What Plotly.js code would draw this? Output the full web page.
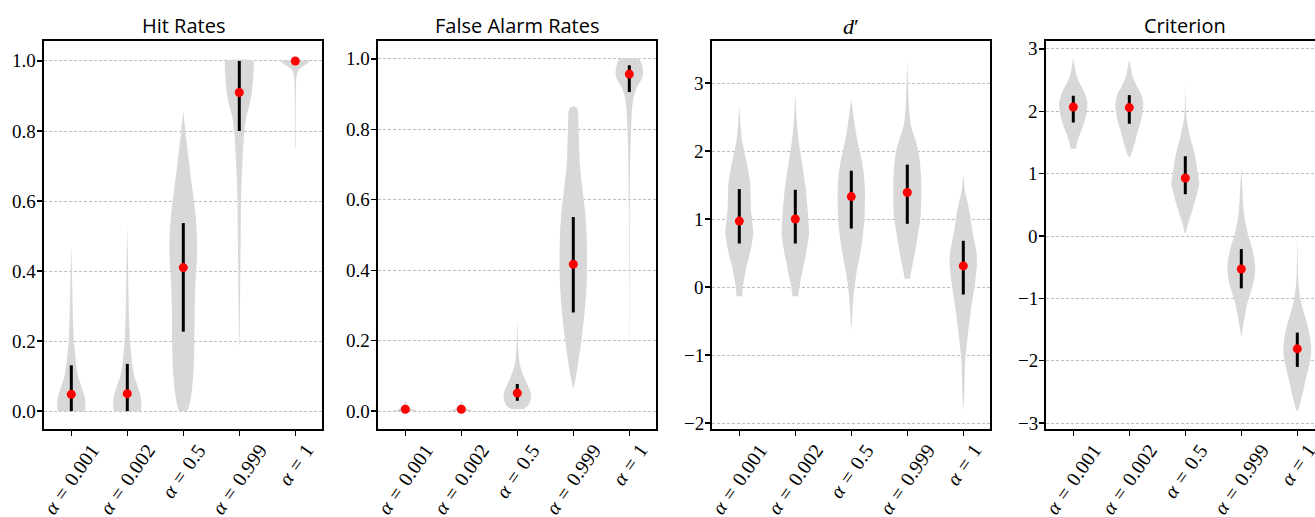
<!DOCTYPE html>
<html><head><meta charset="utf-8">
<script src="https://cdn.plot.ly/plotly-3.0.1.min.js"></script>
<style>html,body{margin:0;padding:0;background:#fff}</style>
</head><body><div id="chart" style="width:1315px;height:517px"></div>
<script>
// ---- categories / tick labels ----
const categories = ["<i>α</i>\u2004=\u20040.001", "<i>α</i>\u2004=\u20040.002", "<i>α</i>\u2004=\u20040.5", "<i>α</i>\u2004=\u20040.999", "<i>α</i>\u2004=\u20041"];
const panelTitles = ["Hit Rates", "False Alarm Rates", "<i>d</i>′", "Criterion"];

// ---- Hit rates: violin profiles (y levels, relative density), whisker range, mean ----
const hitY = [
  [0, 0.01, 0.03, 0.05, 0.07, 0.10, 0.13, 0.16, 0.20, 0.25, 0.30, 0.35, 0.40, 0.47],
  [0, 0.01, 0.03, 0.05, 0.07, 0.10, 0.13, 0.16, 0.20, 0.25, 0.30, 0.35, 0.40, 0.45, 0.53],
  [0, 0.02, 0.06, 0.12, 0.20, 0.30, 0.38, 0.44, 0.50, 0.56, 0.62, 0.68, 0.74, 0.80, 0.857],
  [0.19, 0.34, 0.49, 0.63, 0.72, 0.80, 0.84, 0.87, 0.91, 0.96, 1.0],
  [0.75, 0.85, 0.93, 0.96, 0.975, 0.985, 0.995, 1.0]
];
const hitW = [
  [0.95, 1.0, 1.0, 0.9, 0.72, 0.48, 0.36, 0.28, 0.19, 0.13, 0.10, 0.07, 0.05, 0],
  [0.95, 1.0, 1.0, 0.92, 0.75, 0.5, 0.36, 0.28, 0.19, 0.14, 0.10, 0.08, 0.06, 0.04, 0],
  [0.3, 0.45, 0.62, 0.74, 0.8, 0.82, 0.88, 0.98, 0.98, 0.88, 0.7, 0.5, 0.32, 0.15, 0],
  [0.02, 0.06, 0.10, 0.14, 0.24, 0.36, 0.5, 0.7, 0.9, 1.0, 1.0],
  [0.02, 0.03, 0.05, 0.10, 0.25, 0.55, 0.95, 1.0]
];
const hitLo = [0, 0, 0.227, 0.80, 1.0];
const hitHi = [0.131, 0.135, 0.537, 1.0, 1.0];
const hitMean = [0.048, 0.05, 0.41, 0.91, 1.0];

// ---- False alarm rates ----
const faY = [
  [0, 0.004, 0.008, 0.015, 0.025, 0.035],
  [0, 0.004, 0.008, 0.015, 0.025, 0.035],
  [0.005, 0.015, 0.03, 0.045, 0.06, 0.075, 0.09, 0.11, 0.13, 0.15, 0.18, 0.21, 0.256],
  [0.064, 0.10, 0.15, 0.20, 0.25, 0.30, 0.35, 0.40, 0.45, 0.50, 0.55, 0.60, 0.65, 0.70, 0.75, 0.80, 0.85, 0.862, 0.866],
  [0.206, 0.40, 0.53, 0.67, 0.77, 0.86, 0.89, 0.92, 0.94, 0.955, 0.975, 0.99, 1.0]
];
const faW = [
  [1.0, 0.6, 0.35, 0.12, 0.04, 0],
  [1.0, 0.6, 0.35, 0.12, 0.04, 0],
  [0.45, 0.75, 0.95, 0.98, 0.9, 0.72, 0.55, 0.35, 0.2, 0.12, 0.06, 0.04, 0],
  [0, 0.2, 0.4, 0.58, 0.73, 0.85, 0.94, 0.98, 0.98, 0.95, 0.88, 0.75, 0.6, 0.47, 0.42, 0.38, 0.34, 0.25, 0],
  [0.01, 0.02, 0.03, 0.05, 0.10, 0.20, 0.30, 0.55, 0.85, 0.98, 0.95, 0.85, 0.7]
];
const faLo = [0, 0, 0.029, 0.28, 0.906];
const faHi = [0.008, 0.008, 0.077, 0.551, 0.982];
const faMean = [0.005, 0.005, 0.051, 0.417, 0.957];

// ---- d' ----
const dpY = [
  [-0.137, 0, 0.15, 0.29, 0.45, 0.58, 0.78, 0.9, 1.1, 1.27, 1.45, 1.56, 1.73, 1.9, 2.15, 2.4, 2.68],
  [-0.137, 0.05, 0.19, 0.35, 0.48, 0.65, 0.78, 0.9, 1.1, 1.27, 1.45, 1.66, 1.9, 2.15, 2.45, 2.84],
  [-0.64, -0.4, -0.1, 0.19, 0.4, 0.58, 0.8, 0.97, 1.2, 1.41, 1.66, 1.85, 2.0, 2.2, 2.39, 2.76],
  [0.12, 0.24, 0.48, 0.65, 0.78, 0.95, 1.07, 1.3, 1.56, 1.7, 1.85, 2.0, 2.15, 2.39, 2.65, 2.88, 3.34],
  [-1.8, -1.52, -1.08, -0.69, -0.3, 0.09, 0.34, 0.5, 0.68, 0.85, 1.07, 1.25, 1.41, 1.66]
];
const dpW = [
  [0.2, 0.25, 0.38, 0.5, 0.7, 0.85, 1.0, 0.96, 0.85, 0.81, 0.8, 0.76, 0.62, 0.45, 0.2, 0.08, 0],
  [0.2, 0.33, 0.48, 0.62, 0.76, 0.9, 0.98, 0.96, 0.9, 0.83, 0.75, 0.6, 0.42, 0.24, 0.1, 0],
  [0, 0.07, 0.17, 0.36, 0.55, 0.71, 0.85, 0.93, 0.97, 0.98, 0.9, 0.76, 0.6, 0.4, 0.24, 0],
  [0.19, 0.29, 0.52, 0.67, 0.76, 0.9, 0.97, 1.0, 1.0, 0.96, 0.9, 0.8, 0.6, 0.24, 0.12, 0.07, 0],
  [0, 0.07, 0.14, 0.33, 0.57, 0.86, 0.98, 0.95, 0.79, 0.64, 0.48, 0.3, 0.12, 0]
];
const dpLo = [0.64, 0.64, 0.86, 0.93, -0.11];
const dpHi = [1.44, 1.43, 1.71, 1.80, 0.68];
const dpMean = [0.97, 1.0, 1.33, 1.39, 0.31];

// ---- Criterion ----
const crY = [
  [1.40, 1.54, 1.65, 1.75, 1.85, 1.97, 2.07, 2.16, 2.25, 2.35, 2.45, 2.61, 2.85],
  [1.27, 1.38, 1.5, 1.65, 1.78, 1.91, 2.02, 2.13, 2.22, 2.29, 2.4, 2.56, 2.83],
  [0.05, 0.2, 0.31, 0.45, 0.57, 0.7, 0.84, 1.0, 1.15, 1.32, 1.5, 1.65, 1.91, 2.1, 2.45],
  [-1.6, -1.45, -1.3, -1.15, -1.04, -0.88, -0.72, -0.5, -0.35, -0.18, 0.0, 0.14, 0.35, 0.57, 1.11],
  [-2.8, -2.65, -2.48, -2.3, -2.16, -2.0, -1.84, -1.68, -1.55, -1.41, -1.25, -1.09, -0.85, -0.61, 0.06]
];
const crW = [
  [0.19, 0.33, 0.5, 0.67, 0.82, 0.95, 1.0, 1.0, 0.88, 0.71, 0.45, 0.19, 0],
  [0.07, 0.24, 0.4, 0.57, 0.75, 0.9, 0.97, 1.0, 0.92, 0.83, 0.55, 0.24, 0],
  [0.05, 0.2, 0.36, 0.55, 0.71, 0.86, 1.0, 0.9, 0.8, 0.67, 0.45, 0.29, 0.07, 0.03, 0],
  [0.02, 0.12, 0.24, 0.36, 0.48, 0.7, 0.9, 1.0, 0.92, 0.76, 0.5, 0.36, 0.2, 0.12, 0],
  [0.07, 0.25, 0.43, 0.6, 0.76, 0.92, 1.0, 0.95, 0.85, 0.71, 0.5, 0.29, 0.12, 0.05, 0]
];
const crLo = [1.82, 1.80, 0.67, -0.84, -2.10];
const crHi = [2.25, 2.26, 1.28, -0.21, -1.55];
const crMean = [2.07, 2.06, 0.93, -0.53, -1.81];

const yTickVals = [
  [0, 0.2, 0.4, 0.6, 0.8, 1.0],
  [0, 0.2, 0.4, 0.6, 0.8, 1.0],
  [-2, -1, 0, 1, 2, 3],
  [-3, -2, -1, 0, 1, 2, 3]
];
const yRanges = [[-0.051, 1.057], [-0.051, 1.051], [-2.088, 3.618], [-3.096, 3.128]];

// ---- build ----
const panels = [
  {Y: hitY, W: hitW, lo: hitLo, hi: hitHi, m: hitMean},
  {Y: faY, W: faW, lo: faLo, hi: faHi, m: faMean},
  {Y: dpY, W: dpW, lo: dpLo, hi: dpHi, m: dpMean},
  {Y: crY, W: crW, lo: crLo, hi: crHi, m: crMean}
];
const HALF = 0.25;
const positions = [1, 2, 3, 4, 5];
const traces = [];
panels.forEach((p, k) => {
  const xa = k === 0 ? 'x' : 'x' + (k + 1);
  const ya = k === 0 ? 'y' : 'y' + (k + 1);
  p.Y.forEach((ys, i) => {
    const ws = p.W[i], c = positions[i];
    const xs = [], yy = [];
    for (let j = 0; j < ys.length; j++) { xs.push(c + HALF * ws[j]); yy.push(ys[j]); }
    for (let j = ys.length - 1; j >= 0; j--) { xs.push(c - HALF * ws[j]); yy.push(ys[j]); }
    traces.push({type: 'scatter', mode: 'lines', x: xs, y: yy, xaxis: xa, yaxis: ya,
      fill: 'toself', fillcolor: '#d8d8d8', line: {width: 0, shape: 'spline', smoothing: 0.5, color: '#d8d8d8'},
      hoverinfo: 'skip', showlegend: false});
  });
  positions.forEach((c, i) => {
    traces.push({type: 'scatter', mode: 'lines', x: [c, c], y: [p.lo[i], p.hi[i]], xaxis: xa, yaxis: ya,
      line: {color: '#000', width: 3}, showlegend: false, hoverinfo: 'skip'});
  });
  traces.push({type: 'scatter', mode: 'markers', x: positions, y: p.m, xaxis: xa, yaxis: ya,
    marker: {color: '#ff0000', size: 9, line: {width: 0}}, showlegend: false, hoverinfo: 'skip'});
});

const W = 1315, H = 517;
const lefts = [44, 378, 712, 1046];
const pw = 278;
const yDom = [(H - 429) / H, (H - 41) / H];
const layout = {
  width: W, height: H, margin: {l: 0, r: 0, t: 0, b: 0},
  paper_bgcolor: '#fff', plot_bgcolor: '#fff',
  font: {family: 'Liberation Serif', size: 19, color: '#000'},
  annotations: [], showlegend: false
};
lefts.forEach((l, k) => {
  const last = k === 3;
  const right = last ? W : l + pw;
  const xr0 = 1 - 27.3 / 56;
  const xr1 = xr0 + (right - l) / 56;
  const sx = k === 0 ? '' : String(k + 1);
  layout['xaxis' + sx] = {
    domain: [l / W, right / W], anchor: 'y' + sx, range: [xr0, xr1],
    tickvals: positions, showticklabels: false,
    ticks: 'outside', ticklen: 5, tickwidth: 1.3, tickcolor: '#000',
    showline: true, linecolor: '#000', linewidth: 1.6, mirror: true,
    showgrid: false, zeroline: false, fixedrange: true
  };
  layout['yaxis' + sx] = {
    domain: yDom, anchor: 'x' + sx, range: yRanges[k],
    tickvals: yTickVals[k], showticklabels: false,
    ticks: 'outside', ticklen: 5, tickwidth: 1.3, tickcolor: '#000',
    showline: true, linecolor: '#000', linewidth: 1.6, mirror: !last,
    showgrid: true, gridcolor: '#bdbdbd', griddash: '3px,2px', gridwidth: 1,
    zeroline: false, fixedrange: true
  };
  // y tick labels (serif, placed on the axis scale)
  yTickVals[k].forEach(v => {
    const t = k < 2 ? v.toFixed(1) : (v < 0 ? '−' + Math.abs(v) : String(v));
    layout.annotations.push({
      text: t, xref: 'paper', yref: 'y' + sx, x: l / W, y: v,
      xanchor: 'right', yanchor: 'middle', xshift: -6, showarrow: false,
      font: {family: 'Liberation Serif', size: 19, color: '#000'}
    });
  });
  // rotated category labels, centred under each tick (matplotlib style)
  categories.forEach((t, i) => {
    layout.annotations.push({
      text: t, xref: 'x' + sx, yref: 'paper', x: positions[i], y: yDom[0],
      xanchor: 'center', yanchor: 'top', yshift: -8, textangle: -55, showarrow: false,
      font: {family: 'Liberation Serif', size: 20, color: '#000'}
    });
  });
  layout.annotations.push({
    text: panelTitles[k], xref: 'paper', yref: 'paper',
    x: (l + pw / 2) / W, y: yDom[1], xanchor: 'center', yanchor: 'bottom', yshift: 0,
    showarrow: false,
    font: k === 2 ? {family: 'Liberation Serif', size: 22, color: '#000'}
                  : {family: 'Open Sans', size: 20, color: '#000'}
  });
});
Plotly.newPlot('chart', traces, layout, {staticPlot: true, displayModeBar: false});
</script>
</body></html>
